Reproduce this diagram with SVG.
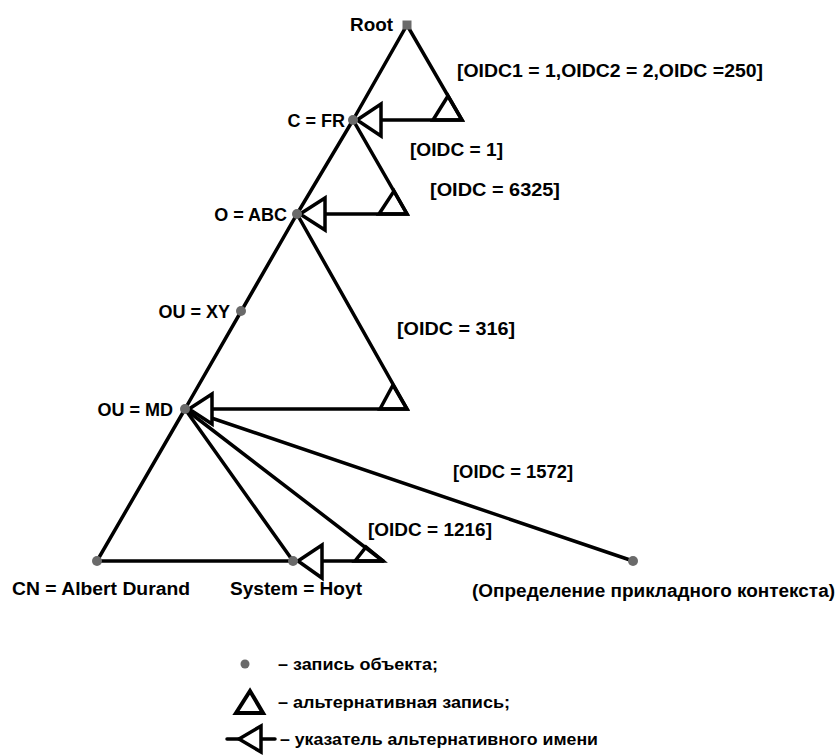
<svg xmlns="http://www.w3.org/2000/svg" width="838" height="756" viewBox="0 0 838 756">
<style>
  .ln { stroke:#000; stroke-width:3.5; fill:none; stroke-linejoin:miter; stroke-linecap:round; }
  .ptr { stroke:#000; stroke-width:3.5; fill:#fff; stroke-linejoin:miter; }
  .dot { fill:#6a6a6a; }
  text { font-family:"Liberation Sans", Arial, sans-serif; font-weight:bold; font-size:18px; fill:#000; }
  .lg { font-size:16px; }
</style>
<rect width="838" height="756" fill="#fff"/>
<g id="connectors">
  <polyline class="ln" points="353,120 407,25 462,120 381,120"/>
  <polyline class="ln" points="297,214 353,120 407,214 325,214"/>
  <polyline class="ln" points="185,409 297,214 407,409 212,409"/>
  <line class="ln" x1="185" y1="409" x2="97" y2="561"/>
  <line class="ln" x1="185" y1="409" x2="293" y2="561"/>
  <line class="ln" x1="185" y1="409" x2="383" y2="561"/>
  <line class="ln" x1="185" y1="409" x2="633" y2="561"/>
  <polyline class="ln" points="97,561 383,561"/>
  <polygon class="ln" points="433,120 448,96 462,120"/>
  <polygon class="ln" points="379,214 394,191 407,214"/>
  <polygon class="ln" points="380,409 393,385 407,409"/>
  <polygon class="ln" points="355,561 366,547 383,561"/>
  <polygon class="ptr" points="357,120 381,104 381,136"/>
  <polygon class="ptr" points="300,214 325,198 325,230"/>
  <polygon class="ptr" points="189,409 212,394 212,424"/>
  <polygon class="ptr" points="298,561 322,545 322,578"/>
</g>
<g id="n-root"><rect class="dot" x="402.5" y="20.5" width="9" height="9"/><text x="393" y="31" text-anchor="end" textLength="43" lengthAdjust="spacingAndGlyphs">Root</text></g>
<g id="n-fr"><circle class="dot" cx="353" cy="120" r="5"/><text x="345" y="127" text-anchor="end">C = FR</text></g>
<g id="n-abc"><circle class="dot" cx="297" cy="214" r="5"/><text x="287" y="221" text-anchor="end">O = ABC</text></g>
<g id="n-xy"><circle class="dot" cx="241" cy="311" r="5"/><text x="230" y="318" text-anchor="end">OU = XY</text></g>
<g id="n-md"><circle class="dot" cx="185" cy="409" r="5"/><text x="173" y="416" text-anchor="end">OU = MD</text></g>
<g id="n-cn"><circle class="dot" cx="97" cy="561" r="5"/><text x="12" y="595" textLength="178" lengthAdjust="spacingAndGlyphs">CN = Albert Durand</text></g>
<g id="n-hoyt"><circle class="dot" cx="293" cy="561" r="5"/><text x="230" y="595" textLength="132" lengthAdjust="spacingAndGlyphs">System = Hoyt</text></g>
<g id="n-ctx"><circle class="dot" cx="633" cy="561" r="5"/><text x="472" y="597" textLength="363" lengthAdjust="spacingAndGlyphs">(Определение прикладного контекста)</text></g>
<g id="labels">
  <text x="457" y="77" textLength="306" lengthAdjust="spacingAndGlyphs">[OIDC1 = 1,OIDC2 = 2,OIDC =250]</text>
  <text x="410" y="156" textLength="93" lengthAdjust="spacingAndGlyphs">[OIDC = 1]</text>
  <text x="430" y="196" textLength="130" lengthAdjust="spacingAndGlyphs">[OIDC = 6325]</text>
  <text x="397" y="335" textLength="118" lengthAdjust="spacingAndGlyphs">[OIDC = 316]</text>
  <text x="453" y="478" textLength="120" lengthAdjust="spacingAndGlyphs">[OIDC = 1572]</text>
  <text x="368" y="536" textLength="124" lengthAdjust="spacingAndGlyphs">[OIDC = 1216]</text>
</g>
<g id="legend">
  <circle class="dot" cx="245" cy="664" r="4.5"/>
  <text class="lg" x="278" y="670" textLength="160" lengthAdjust="spacingAndGlyphs">– запись объекта;</text>
  <polygon class="ln" points="236,713 250,691 263,713" style="stroke-width:4"/>
  <text class="lg" x="278" y="708" textLength="232" lengthAdjust="spacingAndGlyphs">– альтернативная запись;</text>
  <line class="ln" x1="227" y1="739" x2="275" y2="739"/>
  <polygon class="ptr" points="239,739 261,726 261,752"/>
  <text class="lg" x="280" y="745" textLength="318" lengthAdjust="spacingAndGlyphs">– указатель альтернативного имени</text>
</g>
</svg>
